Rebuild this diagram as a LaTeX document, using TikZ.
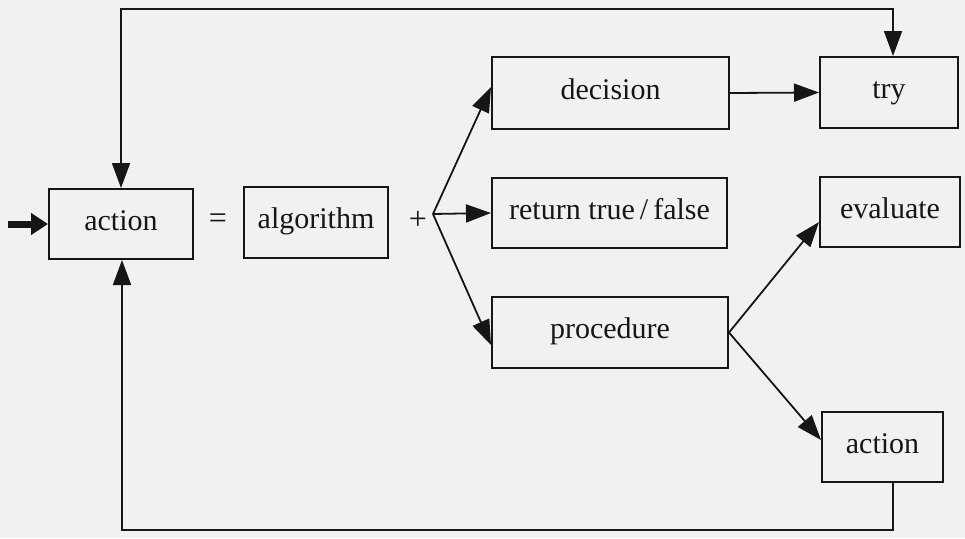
\documentclass[tikz,border=0pt]{standalone}
\usepackage{fontspec}
\setmainfont{Liberation Serif}
\usetikzlibrary{arrows.meta}
\definecolor{paper}{RGB}{241,241,243}
\definecolor{ink}{RGB}{22,22,24}
\begin{document}
\begin{tikzpicture}[x=1pt,y=-1pt,
  box/.style={draw=ink,line width=2pt,rectangle,inner sep=0pt,text=ink,
    font=\fontsize{30}{36}\selectfont,text height=19pt,text depth=7pt},
  sym/.style={text=ink,font=\fontsize{32}{38}\selectfont,inner sep=0pt},
  tip/.tip={Triangle[length=25pt,width=18pt]},
  conn/.style={draw=ink,line width=1.8pt,-tip},
  loop/.style={draw=ink,line width=1.8pt,tip-tip},
  entry/.style={draw=ink,line width=7pt,-{Triangle[length=17pt,width=21pt]}}]
\fill[paper] (0,0) rectangle (965,538);
\useasboundingbox (0,0) rectangle (965,538);
% boxes
\node[box,minimum width=144pt,minimum height=70pt] (act1) at (121,224) {action};
\node[sym] (eq) at (218,221) {=};
\node[box,minimum width=144pt,minimum height=71pt] (alg) at (316,222.5) {algorithm};
\node[sym] (plus) at (418,220) {+};
\node[box,minimum width=237pt,minimum height=72pt] (dec) at (610.5,93) {decision};
\node[box,minimum width=235pt,minimum height=70pt] (ret) at (609.5,213) {return true\,/\,false};
\node[box,minimum width=236pt,minimum height=71pt] (proc) at (610,332.5) {procedure};
\node[box,minimum width=138pt,minimum height=71pt] (try) at (889,92.5) {try};
\node[box,minimum width=140pt,minimum height=70pt] (eval) at (890,212) {evaluate};
\node[box,minimum width=121pt,minimum height=70pt] (act2) at (882.5,447) {action};
% helper coordinates
\coordinate (in) at (8,224);
\coordinate (fork) at (433,214);
\coordinate (topl) at (121,9);
\coordinate (topr) at (893,9);
\coordinate (botr) at (893,530);
\coordinate (botl) at (122,530);
% connectors
\draw[entry] (in) -- (act1.west);
\draw[loop] (act1.north) -- (topl) -- (topr) -- ([xshift=4pt]try.north);
\draw[conn] ([xshift=10.5pt]act2.south) -- (botr) -- (botl) -- ([xshift=1pt]act1.south);
\draw[conn] (dec.east) -- (try.west);
\draw[conn] (fork) -- ([yshift=6pt]dec.west);
\draw[conn] (fork) -- (ret.west);
\draw[conn] (fork) -- ([yshift=-12.5pt]proc.west);
\draw[conn] (proc.east) -- ([yshift=-10pt]eval.west);
\draw[conn] (proc.east) -- ([yshift=7pt]act2.west);
\end{tikzpicture}
\end{document}
